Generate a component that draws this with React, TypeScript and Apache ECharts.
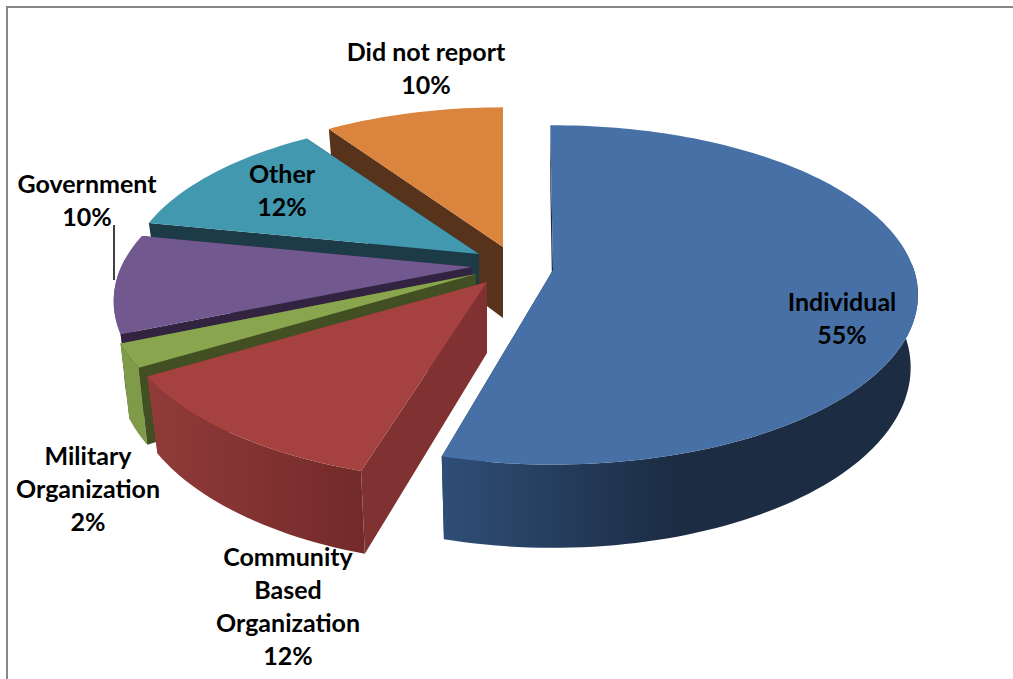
import React, { useEffect, useRef } from "react";
import * as echarts from "echarts";

const categories = ["Individual", "Community\nBased\nOrganization", "Military\nOrganization", "Government", "Other", "Did not report"];
const values = [55, 12, 2, 10, 12, 10];

// layout of the exploded 3D pie
const apexX = [553, 487, 476, 472, 479, 503];
const apexY = [270, 282, 274, 267, 254, 247];
const radiusStart = [1, 1.02, 1.008, 0.995, 0.96, 0.96];
const radiusEnd = [1, 1.015, 1.008, 0.96, 0.94, 0.96];
const nudgeStart = [-0.5, 1, 0, 1.5, 0, 1.5];
const nudgeEnd = [-0.7, 0, 1, 0, 1.2, 0];
const bottomScale = [0.98, 0.97, 0.975, 0.97, 0.97, 0.97];
const topColors = ["#4771a6", "#a5423f", "#89a54e", "#71588f", "#4198af", "#db843d"];
const wallFrom = ["#2f4e76", "#913b3a", "#7f9a49", "#664f85", "#2a6272", "#8f5628"];
const wallTo = ["#1b2c43", "#722a29", "#7f9a49", "#5a447a", "#1c3b47", "#56331a"];
const cutColors = ["#1b2c43", "#7f3231", "#414f22", "#322340", "#1c3b47", "#56331a"];
const paintOrder = [6, 5, 4, 3, 2, 1];
const labelX = [842, 288, 88, 87, 282, 426];
const labelY = [317, 605, 488, 199, 189, 67];

const A = 361;
const B = 166;
const P = 0.147;
const D = 71;
const WALL_LIMIT = 0.05; // walls further back than this face away from the viewer
const total = values.reduce((s, v) => s + v, 0);
const RAD = Math.PI / 180;

function renderItem(params: any, api: any) {
  const i = params.dataIndex;
  let before = 0;
  for (let k = 0; k < i; k++) before += values[k];
  const start = (before / total) * Math.PI * 2 + nudgeStart[i] * RAD;
  const end = ((before + api.value(0)) / total) * Math.PI * 2 + nudgeEnd[i] * RAD;
  const ax = apexX[i];
  const ay = apexY[i];
  const bs = bottomScale[i];
  const project = (t: number) => {
    const r = radiusStart[i] + ((radiusEnd[i] - radiusStart[i]) * (t - start)) / (end - start);
    const u = r * Math.sin(t);
    const v = r * Math.cos(t);
    const w = 1 + P * v;
    return { x: ax + (A * u) / w, y: ay - (B * v) / w, w };
  };
  const topPt = (t: number) => {
    const p = project(t);
    return [p.x, p.y];
  };
  const botPt = (t: number) => {
    const p = project(t);
    return [ax + (p.x - ax) * bs, p.y + D / p.w];
  };
  const steps = Math.max(4, Math.ceil((end - start) / (Math.PI / 120)));
  const arcTop: number[][] = [];
  const wallTop: number[][] = [];
  const wallBot: number[][] = [];
  for (let s = 0; s <= steps; s++) {
    const t = start + ((end - start) * s) / steps;
    arcTop.push(topPt(t));
    if (Math.cos(t) < WALL_LIMIT) {
      wallTop.push(topPt(t));
      wallBot.push(botPt(t));
    }
  }
  const apexTop = [ax, ay];
  const apexBot = [ax, ay + D];
  const base = paintOrder[i] * 10;
  const poly = (points: number[][], fill: any, layer: number) => ({
    type: "polygon",
    z2: base + layer,
    shape: { points },
    style: { fill, stroke: null },
    silent: true,
  });
  const children: any[] = [poly([apexTop, topPt(end), botPt(end), apexBot], cutColors[i], 0)];
  if (wallTop.length > 1) {
    children.push(
      poly(
        wallTop.concat(wallBot.slice().reverse()),
        {
          type: "linear",
          x: 0,
          y: 0,
          x2: 1,
          y2: 0,
          colorStops:
            i === 0
              ? [
                  { offset: 0, color: wallFrom[i] },
                  { offset: 0.5, color: wallTo[i] },
                  { offset: 1, color: wallTo[i] },
                ]
              : [
                  { offset: 0, color: wallFrom[i] },
                  { offset: 1, color: wallTo[i] },
                ],
        },
        1
      )
    );
  }
  children.push(poly([apexTop, topPt(start), botPt(start), apexBot], cutColors[i], 2));
  children.push(poly([apexTop, ...arcTop], topColors[i], 3));
  return { type: "group", children };
}

const labelFont = { fontFamily: "Lato", fontWeight: "bold", fontSize: 25, lineHeight: 33, fill: "#000" };

export default function App() {
  const ref = useRef<HTMLDivElement>(null);
  useEffect(() => {
    const chart = echarts.init(ref.current as HTMLDivElement, undefined, { renderer: "svg" });
    chart.setOption({
      animation: false,
      backgroundColor: "#fff",
      series: [
        {
          type: "custom",
          coordinateSystem: "none",
          renderItem,
          data: values.map((v, i) => ({ name: categories[i], value: [v] })),
          silent: true,
        },
      ],
      graphic: [
        { type: "line", z: 50, shape: { x1: 7, y1: 7, x2: 1013, y2: 7 }, style: { stroke: "#868686", lineWidth: 2 } },
        { type: "line", z: 50, shape: { x1: 7, y1: 6, x2: 7, y2: 679 }, style: { stroke: "#868686", lineWidth: 2 } },
        { type: "line", z: 50, shape: { x1: 114, y1: 225, x2: 114, y2: 280 }, style: { stroke: "#000", lineWidth: 1.5 } },
        ...categories.map((c, i) => ({
          type: "text",
          z: 100,
          x: labelX[i],
          y: labelY[i],
          style: { ...labelFont, text: `${c}\n${values[i]}%`, textAlign: "center", textVerticalAlign: "middle" },
        })),
      ],
    });
    return () => chart.dispose();
  }, []);
  return <div ref={ref} style={{ position: "absolute", left: 0, top: 0, width: 1013, height: 679 }} />;
}
